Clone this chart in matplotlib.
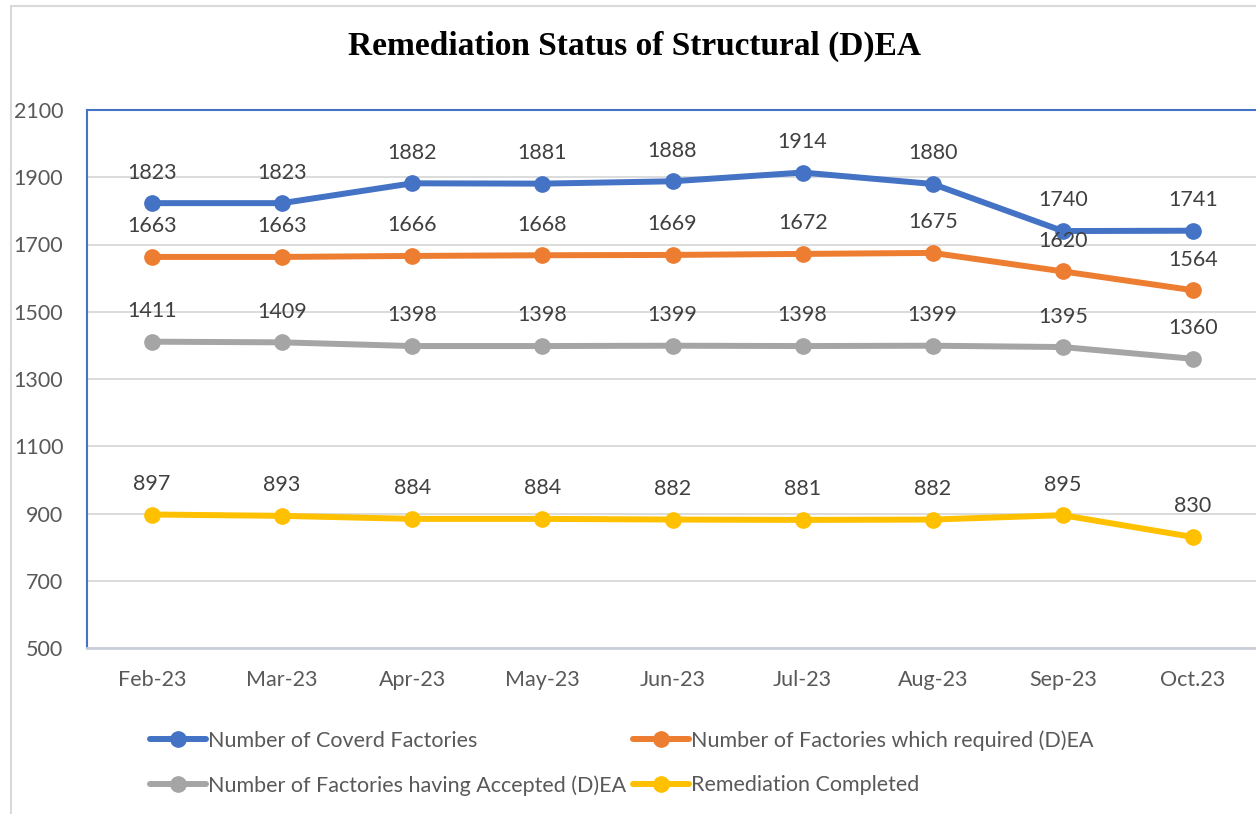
import matplotlib
matplotlib.use("Agg")
import matplotlib.pyplot as plt
from matplotlib.patches import Rectangle

months = ["Feb-23", "Mar-23", "Apr-23", "May-23", "Jun-23", "Jul-23", "Aug-23", "Sep-23", "Oct.23"]
covered = [1823, 1823, 1882, 1881, 1888, 1914, 1880, 1740, 1741]
required = [1663, 1663, 1666, 1668, 1669, 1672, 1675, 1620, 1564]
accepted = [1411, 1409, 1398, 1398, 1399, 1398, 1399, 1395, 1360]
completed = [897, 893, 884, 884, 882, 881, 882, 895, 830]

series_names = ["Number of Coverd Factories", "Number of Factories which required (D)EA",
                "Number of Factories having Accepted (D)EA", "Remediation Completed"]
colors = ["#4472C4", "#ED7D31", "#A5A5A5", "#FFC000"]
yticks = [500, 700, 900, 1100, 1300, 1500, 1700, 1900, 2100]

plt.rcParams['font.family'] = ['Lato', 'DejaVu Sans']
FS = 15.5

W, H = 1256, 814
fig = plt.figure(figsize=(W/100, H/100), dpi=100)

# outer chart border (cut at right/bottom)
fig.patches.append(Rectangle((11/W, -0.1), 1.2, 1 - 6/H + 0.1, transform=fig.transFigure,
                             fill=False, edgecolor="#D9D9D9", lw=1.5))

ax = fig.add_axes([87/W, 1 - 648/H, 1171/W, 538/H])
x = list(range(len(months)))
handles = []
for vals, name, c in zip([covered, required, accepted, completed], series_names, colors):
    h, = ax.plot(x, vals, color=c, lw=4.3, marker='o', markersize=11, label=name,
                 solid_capstyle='round', zorder=3)
    handles.append(h)
    for xi, v in zip(x, vals):
        ax.annotate(str(v), (xi, v), xytext=(0, 22), textcoords='offset points',
                    ha='center', va='center', fontsize=FS, color="#404040", zorder=4)

ax.set_xlim(-0.5, len(months) - 0.5)
ax.set_ylim(500, 2100)
ax.set_yticks(yticks)
ax.set_xticks(x)
ax.set_xticklabels(months)
ax.tick_params(axis='both', length=0, labelsize=FS, labelcolor="#595959")
ax.tick_params(axis='y', pad=17)
ax.tick_params(axis='x', pad=16)
ax.grid(axis='y', color="#D9D9D9", lw=1.3, zorder=0)
ax.set_axisbelow(True)
for s in ['left', 'top']:
    ax.spines[s].set_color("#4472C4")
    ax.spines[s].set_linewidth(1.5)
ax.spines['right'].set_visible(False)
ax.spines['bottom'].set_color("#C9CED8")
ax.spines['bottom'].set_linewidth(2)

fig.text(634/W, 1 - 46/H, "Remediation Status of Structural (D)EA", ha='center', va='center',
         fontsize=24, fontweight='bold', family=['Liberation Serif', 'DejaVu Serif'], color="black")

order = [0, 2, 1, 3]
leg = fig.legend(handles=[handles[i] for i in order], loc='upper left',
                 bbox_to_anchor=(150/W, 1 - 730/H), ncol=2,
                 frameon=False, fontsize=FS, handlelength=2.6, handletextpad=0.1,
                 columnspacing=0.3, labelspacing=1.15, borderaxespad=0, borderpad=0)
for t in leg.get_texts():
    t.set_color("#595959")

fig.savefig("out.png", dpi=100)
